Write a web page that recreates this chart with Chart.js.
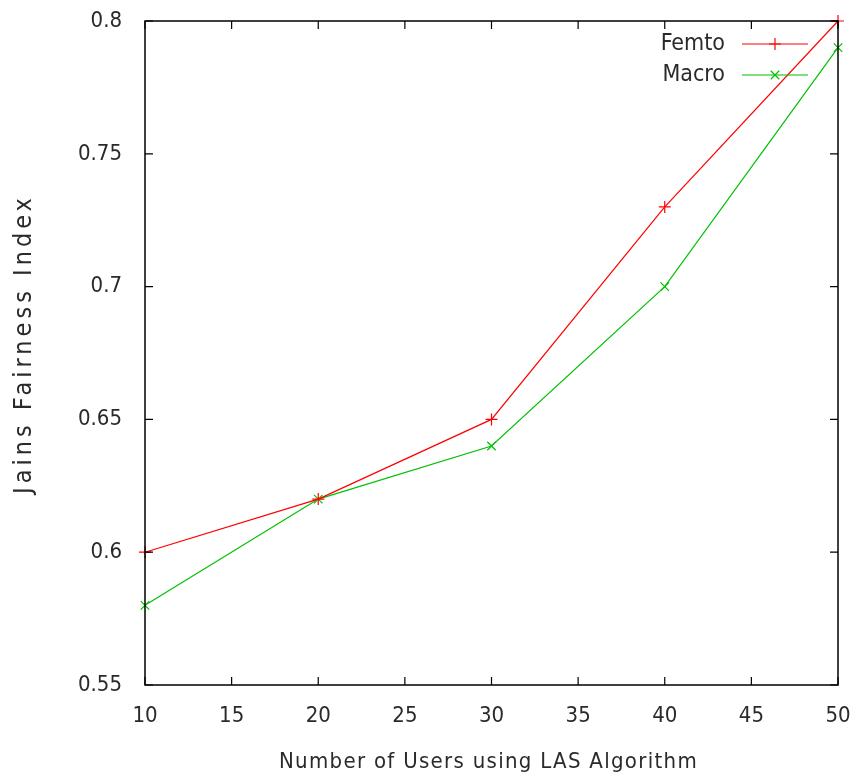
<!DOCTYPE html>
<html>
<head>
<meta charset="utf-8">
<script src="https://cdn.jsdelivr.net/npm/chart.js@4/dist/chart.umd.min.js"></script>
<style>
  html, body { margin: 0; padding: 0; background: #fff; }
  canvas { display: block; }
</style>
</head>
<body>
<canvas id="fairChart" width="854" height="778"></canvas>
<script>
// datos
const users = [10, 20, 30, 40, 50]
const femto = [0.60, 0.62, 0.65, 0.73, 0.80]
const macro = [0.58, 0.62, 0.64, 0.70, 0.79]
const xTicks = [10, 15, 20, 25, 30, 35, 40, 45, 50]
const yTicks = [0.55, 0.6, 0.65, 0.7, 0.75, 0.8]
const xTitle = 'Number of Users using LAS Algorithm'
const yTitle = 'Jains Fairness Index'

const FONT = "'DejaVu Sans Condensed', 'Liberation Sans', sans-serif"
const TEXT = '#2a2a2a'
Chart.defaults.font.family = FONT
Chart.defaults.color = TEXT

// caja completa estilo gnuplot con marcas hacia dentro
const boxPlugin = {
    id: 'gnuBox',
    afterDraw(chart) {
        const {ctx, chartArea: a, scales: {x, y}} = chart
        const len = 8
        ctx.save()
        ctx.strokeStyle = '#000'
        ctx.lineWidth = 1.5
        ctx.strokeRect(a.left, a.top, a.right - a.left, a.bottom - a.top)
        ctx.lineWidth = 1.2
        ctx.beginPath()
        xTicks.forEach(v => {
            const px = x.getPixelForValue(v)
            ctx.moveTo(px, a.bottom); ctx.lineTo(px, a.bottom - len)
            ctx.moveTo(px, a.top); ctx.lineTo(px, a.top + len)
        })
        yTicks.forEach(v => {
            const py = y.getPixelForValue(v)
            ctx.moveTo(a.left, py); ctx.lineTo(a.left + len, py)
            ctx.moveTo(a.right, py); ctx.lineTo(a.right - len, py)
        })
        ctx.stroke()
        ctx.restore()
    }
}

// titulos de ejes a mano, con espaciado entre letras
const titlePlugin = {
    id: 'gnuTitles',
    afterDraw(chart) {
        const {ctx, chartArea: a} = chart
        ctx.save()
        ctx.fillStyle = TEXT
        ctx.textAlign = 'center'
        ctx.textBaseline = 'middle'
        ctx.font = '22px ' + FONT
        ctx.letterSpacing = '1.3px'
        ctx.fillText(xTitle, (a.left + a.right) / 2 - 3, 762)
        ctx.translate(24, 344)
        ctx.rotate(-Math.PI / 2)
        ctx.font = '25px ' + FONT
        ctx.letterSpacing = '4px'
        ctx.fillText(yTitle, 0, 0)
        ctx.restore()
    }
}

// leyenda arriba a la derecha, texto y luego la muestra
const legendPlugin = {
    id: 'gnuLegend',
    afterDraw(chart) {
        const ctx = chart.ctx
        ctx.save()
        chart.data.datasets.forEach((ds, i) => {
            const yy = 44 + i * 31
            ctx.font = '23px ' + FONT
            ctx.fillStyle = TEXT
            ctx.textAlign = 'right'
            ctx.textBaseline = 'middle'
            ctx.fillText(ds.label, 725, yy)
            ctx.strokeStyle = ds.borderColor
            ctx.lineWidth = 1.2
            ctx.beginPath()
            ctx.moveTo(742, yy); ctx.lineTo(808, yy)
            ctx.stroke()
            Chart.helpers.drawPoint(ctx, {pointStyle: ds.pointStyle, radius: 6, borderWidth: 1.2}, 775, yy)
        })
        ctx.restore()
    }
}

const data = {
    datasets: [{
        label: 'Femto',
        data: users.map((u, i) => ({x: u, y: femto[i]})),
        borderColor: '#ff0000',
        backgroundColor: '#ff0000',
        pointStyle: 'cross'
    }, {
        label: 'Macro',
        data: users.map((u, i) => ({x: u, y: macro[i]})),
        borderColor: '#00c000',
        backgroundColor: '#00c000',
        pointStyle: 'crossRot'
    }]
}

const options = {
    responsive: false,
    animation: false,
    devicePixelRatio: 1,
    layout: {padding: {top: 21, right: 16, left: 0, bottom: 0}},
    elements: {
        line: {borderWidth: 1.2, tension: 0},
        point: {radius: 6, borderWidth: 1.2, hoverRadius: 6}
    },
    datasets: {line: {clip: false}},
    plugins: {legend: {display: false}, tooltip: {enabled: false}},
    scales: {
        x: {
            type: 'linear', min: 10, max: 50,
            afterBuildTicks: s => { s.ticks = xTicks.map(v => ({value: v})) },
            afterFit: s => { s.height = 778 - 685; s.paddingLeft = 0; s.paddingRight = 0 },
            grid: {display: false, drawTicks: false},
            border: {display: false},
            ticks: {padding: 18, font: {size: 22}, color: TEXT, maxRotation: 0}
        },
        y: {
            type: 'linear', min: 0.55, max: 0.8,
            afterBuildTicks: s => { s.ticks = yTicks.map(v => ({value: v})) },
            afterFit: s => { s.width = 145; s.paddingTop = 0; s.paddingBottom = 0 },
            grid: {display: false, drawTicks: false},
            border: {display: false},
            ticks: {padding: 23, font: {size: 22}, color: TEXT, callback: v => String(+v.toFixed(2))}
        }
    }
}

new Chart('fairChart', {type: 'line', data, options, plugins: [boxPlugin, titlePlugin, legendPlugin]})
</script>
</body>
</html>
